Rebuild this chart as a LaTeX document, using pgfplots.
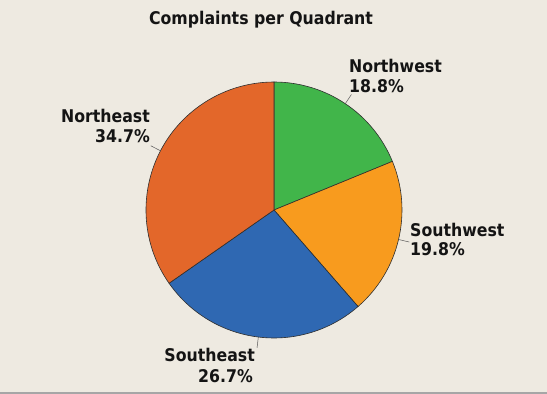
\documentclass[border=0pt]{standalone}
\usepackage{fontspec}
\setmainfont{DejaVu Sans Condensed}[BoldFont={DejaVu Sans Condensed Bold}]
\usepackage{pgfplots}
\usepackage{pgfplotstable}
\usetikzlibrary{calc}
\pgfplotsset{compat=1.18}
\definecolor{bgc}{HTML}{EEEAE1}
\definecolor{cNW}{HTML}{41B54A}
\definecolor{cSW}{HTML}{F89B1E}
\definecolor{cSE}{HTML}{2F68B2}
\definecolor{cNE}{HTML}{E3672A}
\definecolor{edgec}{HTML}{2E2E2E}
\tikzset{lbl/.style={inner sep=0pt, text=black!92, font=\bfseries\fontsize{17.5bp}{20bp}\selectfont}}
\pgfplotstableread{
name pct
Northwest 18.8
Southwest 19.8
Southeast 26.7
Northeast 34.7
}\piedata
\begin{document}
\begin{tikzpicture}
\pgfplotstablegetelem{0}{pct}\of\piedata \let\pA\pgfplotsretval
\pgfplotstablegetelem{1}{pct}\of\piedata \let\pB\pgfplotsretval
\pgfplotstablegetelem{2}{pct}\of\piedata \let\pC\pgfplotsretval
\pgfplotstablegetelem{3}{pct}\of\piedata \let\pD\pgfplotsretval
\pgfmathsetmacro{\aA}{90}
\pgfmathsetmacro{\aB}{\aA-3.6*\pA}
\pgfmathsetmacro{\aC}{\aB-3.6*\pB}
\pgfmathsetmacro{\aD}{\aC-3.6*\pC}
\pgfmathsetmacro{\aE}{\aD-3.6*\pD}
\pgfmathsetmacro{\mA}{(\aA+\aB)/2}
\pgfmathsetmacro{\mB}{(\aB+\aC)/2}
\pgfmathsetmacro{\mC}{(\aC+\aD)/2}
\pgfmathsetmacro{\mD}{(\aD+\aE)/2}
\begin{axis}[
  scale only axis, width=547bp, height=394bp,
  xmin=0, xmax=547, ymin=0, ymax=394,
  hide axis, clip=false,
]
\fill[bgc] (axis cs:0,0) rectangle (axis cs:547,394);
\fill[black!35] (axis cs:0,0) rectangle (axis cs:547,1.5);
\def\R{128bp}
\coordinate (c) at (axis cs:274,184);
\filldraw[fill=cNW, draw=edgec, line width=0.6pt] (c) -- ++(\aA:\R) arc[start angle=\aA, end angle=\aB, radius=\R] -- cycle;
\filldraw[fill=cSW, draw=edgec, line width=0.6pt] (c) -- ++(\aB:\R) arc[start angle=\aB, end angle=\aC, radius=\R] -- cycle;
\filldraw[fill=cSE, draw=edgec, line width=0.6pt] (c) -- ++(\aC:\R) arc[start angle=\aC, end angle=\aD, radius=\R] -- cycle;
\filldraw[fill=cNE, draw=edgec, line width=0.6pt] (c) -- ++(\aD:\R) arc[start angle=\aD, end angle=\aE, radius=\R] -- cycle;
\draw[edgec!80, line width=0.5pt] ($(c)+(\mA:\R)$) -- ($(c)+(\mA:139bp)$);
\draw[edgec!80, line width=0.5pt] ($(c)+(\mB:\R)$) -- ($(c)+(\mB:139bp)$);
\draw[edgec!80, line width=0.5pt] ($(c)+(\mC:\R)$) -- ($(c)+(\mC:139bp)$);
\draw[edgec!80, line width=0.5pt] ($(c)+(\mD:\R)$) -- ($(c)+(\mD:139bp)$);
\node[lbl, anchor=base] at (axis cs:261,369) {Complaints per Quadrant};
\node[lbl, anchor=base west] at (axis cs:349,321) {Northwest};
\node[lbl, anchor=base west] at (axis cs:349,301) {\pA\%};
\node[lbl, anchor=base west] at (axis cs:410,157) {Southwest};
\node[lbl, anchor=base west] at (axis cs:410,138) {\pB\%};
\node[lbl, anchor=base east] at (axis cs:255,32) {Southeast};
\node[lbl, anchor=base east] at (axis cs:253,12) {\pC\%};
\node[lbl, anchor=base east] at (axis cs:150,271) {Northeast};
\node[lbl, anchor=base east] at (axis cs:150,251) {\pD\%};
\end{axis}
\end{tikzpicture}
\end{document}
